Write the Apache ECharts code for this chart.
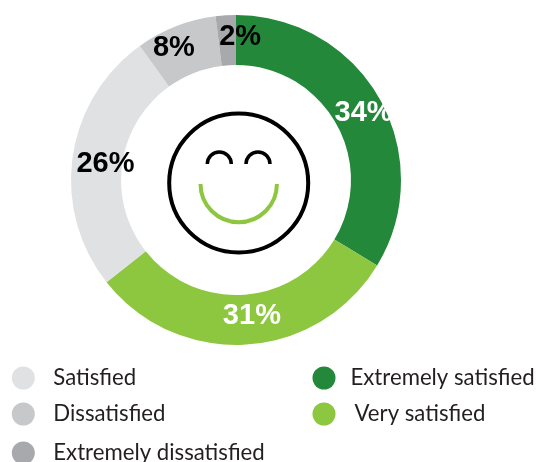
<!DOCTYPE html>
<html><head><meta charset="utf-8">
<style>html,body{margin:0;padding:0;background:#fff}#c{width:536px;height:462px}</style>
<script src="https://cdn.jsdelivr.net/npm/echarts@6/dist/echarts.min.js"></script>
</head><body><div id="c"></div>
<script>
var categories = ['Extremely satisfied','Very satisfied','Satisfied','Dissatisfied','Extremely dissatisfied'];
var values = [34,31,26,8,2];
var colors = ['#23883a','#8dc63f','#e0e1e3','#c7c8ca','#a7a9ac'];
var labelColors = ['#fff','#fff','#000','#000','#000'];
var labelShift = [[3,3],[7,-7],[11,4],[-10,1],[13,0]];
var legendPlace = [[312.5,366.5,10],[312.5,402.5,14],[11.8,366.5,13.5],[11.8,402.5,13.5],[11.8,441.5,13.5]];

var chart = echarts.init(document.getElementById('c'), null, {renderer:'canvas'});
var ink = '#000';
chart.setOption({
  animation:false,
  legend: categories.map(function(n,i){
    return {data:[n], left:legendPlace[i][0], top:legendPlace[i][1], padding:0, icon:'circle',
      itemWidth:23, itemHeight:23, selectedMode:false,
      textStyle:{fontFamily:'Lato', fontSize:22.2, color:'#231f20', padding:[0,0,0,legendPlace[i][2]]}};
  }),
  series:[{
    type:'pie', center:[236,180], radius:[115,165], startAngle:90, clockwise:true, silent:true,
    label:{show:true, position:'inside', fontFamily:'Liberation Sans', fontWeight:'bold', fontSize:29, formatter:'{c}%'},
    labelLine:{show:false},
    labelLayout:function(p){ var s=labelShift[p.dataIndex]; return {dx:s[0],dy:s[1]}; },
    data: categories.map(function(n,i){
      return {name:n, value:values[i], itemStyle:{color:colors[i]}, label:{color:labelColors[i]}};
    })
  }],
  graphic:[
    {type:'circle', shape:{cx:238.7,cy:183,r:69.5}, style:{fill:'none',stroke:ink,lineWidth:4}},
    {type:'arc', shape:{cx:219.3,cy:164,r:12,startAngle:Math.PI,endAngle:2*Math.PI,clockwise:true}, style:{fill:'none',stroke:ink,lineWidth:3.5}},
    {type:'arc', shape:{cx:258,cy:164,r:12,startAngle:Math.PI,endAngle:2*Math.PI,clockwise:true}, style:{fill:'none',stroke:ink,lineWidth:3.5}},
    {type:'arc', shape:{cx:238.7,cy:184,r:38.2,startAngle:0,endAngle:Math.PI,clockwise:true}, style:{fill:'none',stroke:'#8dc63f',lineWidth:4}}
  ]
});
</script></body></html>
